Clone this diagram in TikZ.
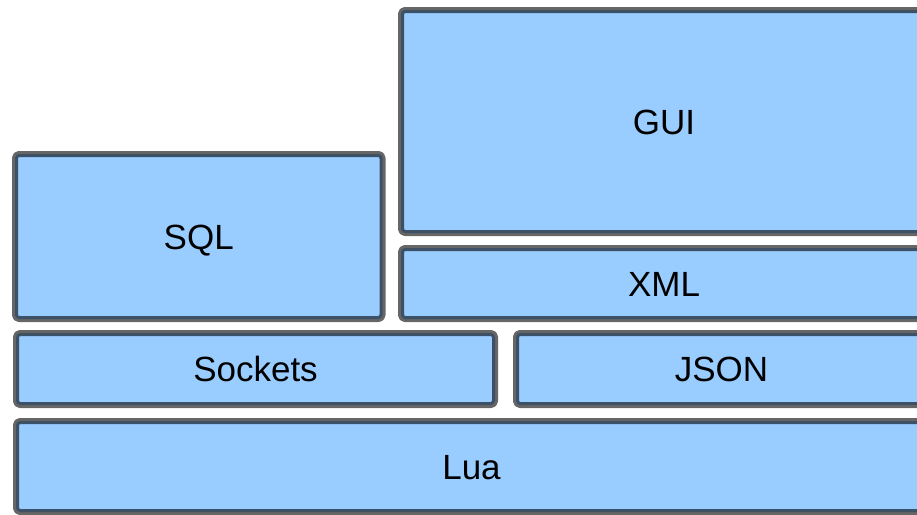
\documentclass[tikz,border=0pt]{standalone}
\usepackage{fontspec}
\setmainfont{Liberation Sans}
\usepackage{tikz}
\definecolor{layerblue}{rgb}{0.6,0.8,1.}
\tikzstyle{every node}=[font=\fontsize{35}{42}\selectfont]
\tikzstyle{layer}=[draw=black,draw opacity=0.6,fill=layerblue,line width=6pt,rounded corners=4pt,inner sep=0pt,text height=25pt,text depth=0pt]

\begin{document}
\begin{tikzpicture}[line cap=round,line join=round,x=1pt,y=-1pt]
            \useasboundingbox (0,0) rectangle (917,514);
            \clip (0,0) rectangle (917,514);
            % top row
            \node[layer,minimum width=526pt,minimum height=223pt] (gui) at (664,121.5) {GUI};
            \node[layer,minimum width=526pt,minimum height=71pt] (xml) at (664,283.5) {XML};
            \node[layer,minimum width=367.5pt,minimum height=165pt] (sql) at (198.75,236.5) {SQL};
            % middle row
            \node[layer,minimum width=479pt,minimum height=72pt] (sockets) at (255.5,369) {Sockets};
            \node[layer,minimum width=411pt,minimum height=72pt] (json) at (721.5,369) {JSON};
            % base
            \node[layer,minimum width=911pt,minimum height=91pt] (lua) at (471.5,466.5) {Lua};
\end{tikzpicture}
\end{document}
